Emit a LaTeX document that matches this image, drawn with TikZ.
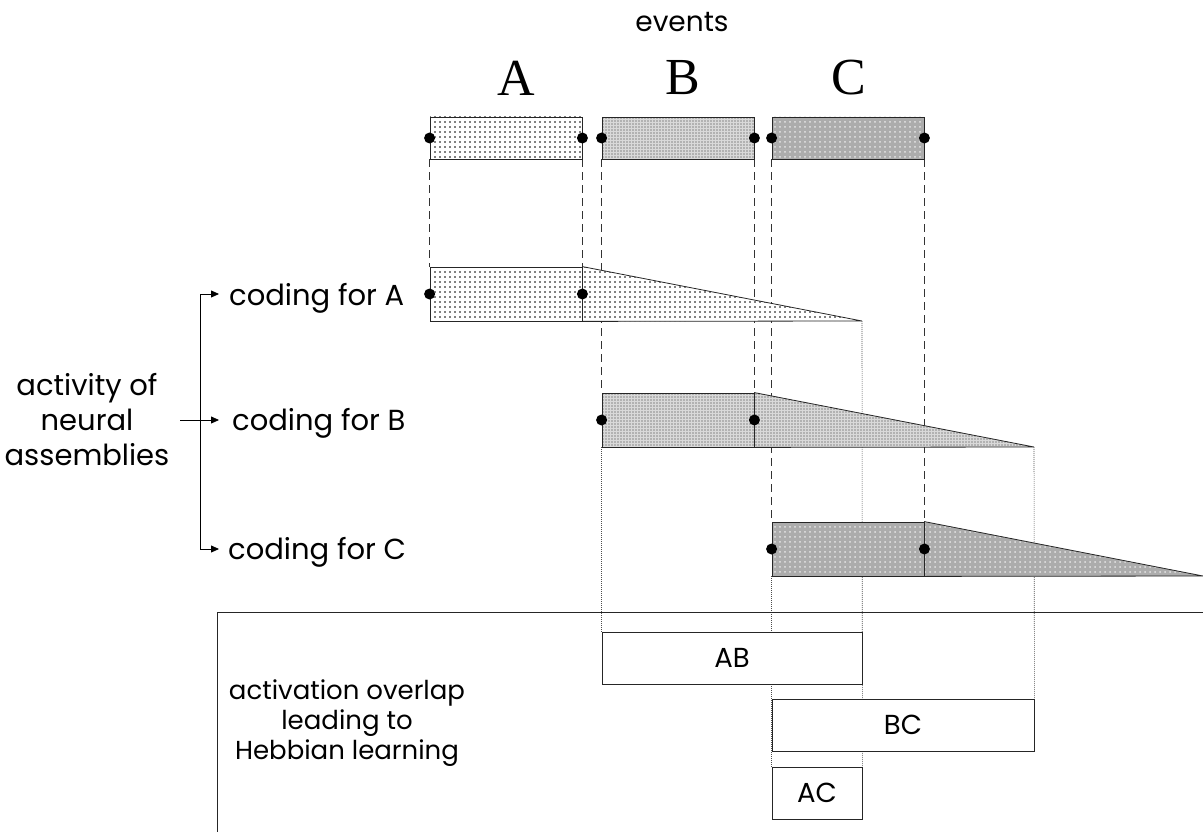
\documentclass[tikz,border=0pt]{standalone}
\usepackage{fontspec}
\setmainfont{Poppins}
\newfontfamily\serifletters{Liberation Serif}
\usetikzlibrary{patterns.meta,arrows.meta}
\pgfdeclarelayer{bg}
\pgfsetlayers{bg,main}
\tikzset{
  box/.style={draw=black!85, line width=0.8pt, inner sep=0pt},
  evbox/.style={box, minimum width=152pt, minimum height=42pt},
  codbox/.style={box, minimum width=152pt, minimum height=54pt},
  ovbox/.style={box, fill=white, minimum height=52pt, font=\fontsize{27.5}{30}\selectfont},
  patA/.style={preaction={fill=white}, pattern={Dots[distance=5pt, radius=0.85pt]}, pattern color=black},
  patB/.style={preaction={fill=gray!30}, pattern={Dots[distance=3pt, radius=0.65pt]}, pattern color=black!80},
  patC/.style={preaction={fill=gray!65}, pattern={Dots[distance=5pt, radius=1pt]}, pattern color=gray!20},
  tail/.style={draw=black!85, line width=0.8pt},
  blob/.style={circle, fill=black, inner sep=0pt, minimum size=11pt},
  evdash/.style={draw=black!80, line width=0.8pt, dash pattern=on 8pt off 5pt},
  fine/.style={draw=black!70, line width=0.6pt, dash pattern=on 1pt off 1pt},
  arr/.style={draw=black, line width=0.8pt, -{Triangle[length=8pt,width=7pt]}},
  lbl/.style={inner sep=0pt, font=\fontsize{29}{35}\selectfont},
  letter/.style={inner sep=0pt, font=\serifletters\fontsize{52}{52}\selectfont}
}
\begin{document}
\begin{tikzpicture}[x=1pt,y=-1pt]
\useasboundingbox (0,0) rectangle (1203,832);

% title and event letters
\node[lbl, font=\fontsize{28}{34}\selectfont] (events) at (682,22) {events};
\node[letter] (lA) at (516,78) {A};
\node[letter] (lB) at (683,78) {B};
\node[letter] (lC) at (849,78) {C};

% event boxes
\node[evbox,patA] (evA) at (506,138) {};
\node[evbox,patB] (evB) at (678,138) {};
\node[evbox,patC] (evC) at (848,138) {};
\foreach \e in {evA,evB,evC}{
  \node[blob] (\e-l) at (\e.west) {};
  \node[blob] (\e-r) at (\e.east) {};
}

% coding shapes
\coordinate (tipA) at (862,321);
\coordinate (tipB) at (1034,447);
\coordinate (tipC) at (1203,576);
\node[codbox,patA] (codA) at (506,294) {};
\node[codbox,patB] (codB) at (678,420) {};
\node[codbox,patC] (codC) at (848,549) {};
\path[tail,patA] (codA.north east) -- (tipA) -- (codA.south east) -- cycle;
\path[tail,patB] (codB.north east) -- (tipB) -- (codB.south east) -- cycle;
\path[tail,patC] (codC.north east) -- (tipC) -- (codC.south east) -- cycle;
\foreach \c in {codA,codB,codC}{
  \node[blob] (\c-l) at (\c.west) {};
  \node[blob] (\c-r) at (\c.east) {};
}

% coding labels
\node[lbl, anchor=base west] (cA) at (229,305) {coding for A};
\node[lbl, anchor=base west] (cB) at (232,430) {coding for B};
\node[lbl, anchor=base west] (cC) at (228,559) {coding for C};

% activity label and bracket
\node[lbl, align=center, font=\fontsize{29}{35}\selectfont] (act) at (87,420) {activity of\\neural\\assemblies};
\coordinate (brT) at (200,294);
\coordinate (brB) at (200,549);
\coordinate (arT) at (219,294);
\coordinate (arB) at (219,549);
\coordinate (mS) at (180,420);
\coordinate (mE) at (219,420);
\draw[line width=0.8pt] (brT) -- (brB);
\draw[arr] (brT) -- (arT);
\draw[arr] (brB) -- (arB);
\draw[arr] (mS) -- (mE);

% frame for overlap area
\coordinate (fTR) at (1203,612);
\coordinate (fTL) at (217,612);
\coordinate (fBL) at (217,832);
\draw[line width=0.8pt, black!85] (fTR) -- (fTL) -- (fBL);

\node[lbl, align=center, font=\fontsize{26}{30}\selectfont] (hebb) at (347,723) {activation overlap\\leading to\\Hebbian learning};

% overlap boxes
\node[ovbox, minimum width=260pt] (AB) at (732,658) {AB};
\node[ovbox, minimum width=262pt] (BC) at (903,725) {BC};
\node[ovbox, minimum width=90pt] (AC) at (817,793) {AC};

% guide lines behind
\begin{pgfonlayer}{bg}
\draw[evdash] (evA.south west) -- (codA.north west);
\draw[evdash] (evA.south east) -- (codA.north east);
\draw[evdash] (evB.south west) -- (codB.north west);
\draw[evdash] (evB.south east) -- (codB.north east);
\draw[evdash] (evC.south west) -- (codC.north west);
\draw[evdash] (evC.south east) -- (codC.north east);
\draw[fine] (tipA) -- (AC.north east);
\draw[fine] (codB.south west) -- (AB.north west);
\draw[fine] (codC.south west) -- (AC.north west);
\draw[fine] (tipB) -- (BC.north east);
\end{pgfonlayer}
\end{tikzpicture}
\end{document}
